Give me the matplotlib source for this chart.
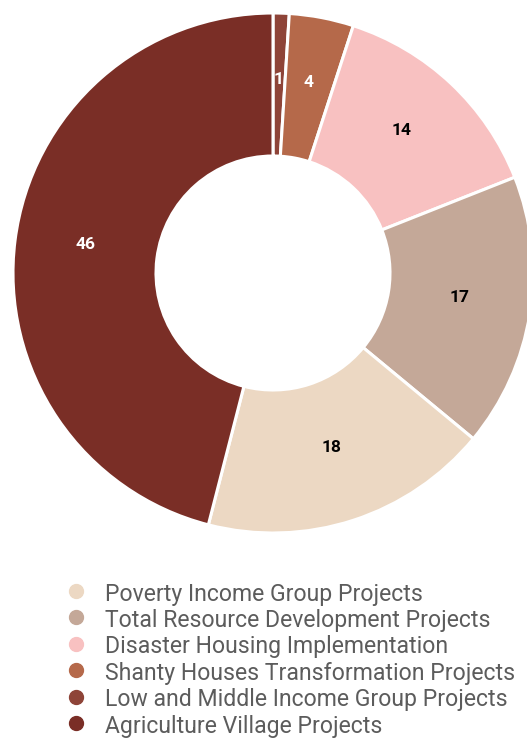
import matplotlib.pyplot as plt
import numpy as np

plt.rcParams['font.family'] = ['Roboto', 'DejaVu Sans']

# slices clockwise from 12 o'clock
slice_names = ["Low and Middle Income Group Projects", "Shanty Houses Transformation Projects",
               "Disaster Housing Implementation", "Total Resource Development Projects",
               "Poverty Income Group Projects", "Agriculture Village Projects"]
slice_values = [1, 4, 14, 17, 18, 46]
slice_colors = ["#8e4438", "#b5694a", "#f8c1c1", "#c4a898", "#ecd8c3", "#7a2e26"]
label_colors = ["white", "white", "black", "black", "black", "white"]

legend_order = ["Poverty Income Group Projects", "Total Resource Development Projects",
                "Disaster Housing Implementation", "Shanty Houses Transformation Projects",
                "Low and Middle Income Group Projects", "Agriculture Village Projects"]

W, H = 527, 738
fig = plt.figure(figsize=(W / 100, H / 100), dpi=100)
# axes in pixel units over the whole canvas
ax = fig.add_axes([0, 0, 1, 1])

cx, cy = 273, H - 273
r_out, r_in = 260, 117
wedges, _ = ax.pie(slice_values, colors=slice_colors, startangle=90, counterclock=False,
                   center=(cx, cy), radius=r_out, frame=True,
                   wedgeprops=dict(width=r_out - r_in, edgecolor="white", linewidth=2.2))
ax.set_xlim(0, W)
ax.set_ylim(0, H)
ax.set_aspect("auto")
ax.axis("off")

# value labels sit a little above the ring's mid line
r_lab = (r_out + r_in) / 2
for w, v, c in zip(wedges, slice_values, label_colors):
    ang = np.deg2rad((w.theta1 + w.theta2) / 2)
    ax.text(cx + r_lab * np.cos(ang), cy + r_lab * np.sin(ang) + 5, str(v), ha="center",
            va="center", color=c, fontsize=12.5, fontweight="bold")

# legend rows
for i, name in enumerate(legend_order):
    y = H - (594 + i * 26.4)
    col = slice_colors[slice_names.index(name)]
    ax.plot([76], [y + 3], marker="o", markersize=10, color=col, linestyle="none")
    ax.text(105, y, name, ha="left", va="center", fontsize=16.6, color="#5c5c5c")

fig.savefig("out.png", dpi=100)
